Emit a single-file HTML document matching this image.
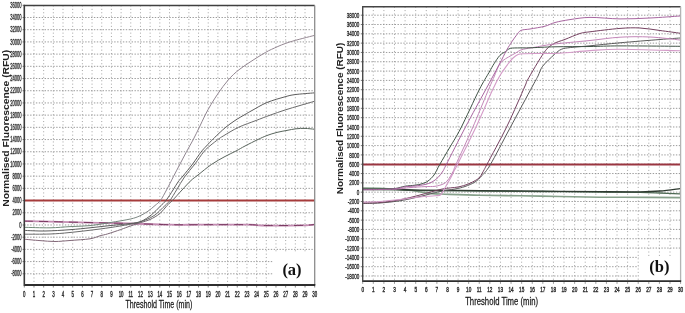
<!DOCTYPE html>
<html><head><meta charset="utf-8"><style>
html,body{margin:0;padding:0;background:#fff;}
body{width:685px;height:313px;overflow:hidden;font-family:"Liberation Sans", sans-serif;}
svg{display:block;will-change:transform;filter:blur(0.4px);}
</style></head><body>
<svg width="685" height="313" viewBox="0 0 685 313">
<rect width="685" height="313" fill="#fff"/>
<g stroke="#8a8a8a" stroke-width="1" stroke-dasharray="1.4 1.5" fill="none" opacity="0.85"><line x1="24.3" y1="17.5" x2="314.7" y2="17.5"/><line x1="24.3" y1="29.7" x2="314.7" y2="29.7"/><line x1="24.3" y1="41.91" x2="314.7" y2="41.91"/><line x1="24.3" y1="54.11" x2="314.7" y2="54.11"/><line x1="24.3" y1="66.32" x2="314.7" y2="66.32"/><line x1="24.3" y1="78.52" x2="314.7" y2="78.52"/><line x1="24.3" y1="90.73" x2="314.7" y2="90.73"/><line x1="24.3" y1="102.93" x2="314.7" y2="102.93"/><line x1="24.3" y1="115.14" x2="314.7" y2="115.14"/><line x1="24.3" y1="127.34" x2="314.7" y2="127.34"/><line x1="24.3" y1="139.55" x2="314.7" y2="139.55"/><line x1="24.3" y1="151.75" x2="314.7" y2="151.75"/><line x1="24.3" y1="163.96" x2="314.7" y2="163.96"/><line x1="24.3" y1="176.16" x2="314.7" y2="176.16"/><line x1="24.3" y1="188.37" x2="314.7" y2="188.37"/><line x1="24.3" y1="200.57" x2="314.7" y2="200.57"/><line x1="24.3" y1="212.78" x2="314.7" y2="212.78"/><line x1="24.3" y1="224.98" x2="314.7" y2="224.98"/><line x1="24.3" y1="237.19" x2="314.7" y2="237.19"/><line x1="24.3" y1="249.39" x2="314.7" y2="249.39"/><line x1="24.3" y1="261.6" x2="272.5" y2="261.6"/><line x1="24.3" y1="273.8" x2="272.5" y2="273.8"/></g><g stroke="#8a8a8a" stroke-width="1" stroke-dasharray="1 2.4" fill="none" opacity="0.78"><line x1="33.98" y1="5.45" x2="33.98" y2="285"/><line x1="43.66" y1="5.45" x2="43.66" y2="285"/><line x1="53.34" y1="5.45" x2="53.34" y2="285"/><line x1="63.02" y1="5.45" x2="63.02" y2="285"/><line x1="72.7" y1="5.45" x2="72.7" y2="285"/><line x1="82.38" y1="5.45" x2="82.38" y2="285"/><line x1="92.06" y1="5.45" x2="92.06" y2="285"/><line x1="101.74" y1="5.45" x2="101.74" y2="285"/><line x1="111.42" y1="5.45" x2="111.42" y2="285"/><line x1="121.1" y1="5.45" x2="121.1" y2="285"/><line x1="130.78" y1="5.45" x2="130.78" y2="285"/><line x1="140.46" y1="5.45" x2="140.46" y2="285"/><line x1="150.14" y1="5.45" x2="150.14" y2="285"/><line x1="159.82" y1="5.45" x2="159.82" y2="285"/><line x1="169.5" y1="5.45" x2="169.5" y2="285"/><line x1="179.18" y1="5.45" x2="179.18" y2="285"/><line x1="188.86" y1="5.45" x2="188.86" y2="285"/><line x1="198.54" y1="5.45" x2="198.54" y2="285"/><line x1="208.22" y1="5.45" x2="208.22" y2="285"/><line x1="217.9" y1="5.45" x2="217.9" y2="285"/><line x1="227.58" y1="5.45" x2="227.58" y2="285"/><line x1="237.26" y1="5.45" x2="237.26" y2="285"/><line x1="246.94" y1="5.45" x2="246.94" y2="285"/><line x1="256.62" y1="5.45" x2="256.62" y2="285"/><line x1="266.3" y1="5.45" x2="266.3" y2="285"/><line x1="275.98" y1="5.45" x2="275.98" y2="252.5"/><line x1="285.66" y1="5.45" x2="285.66" y2="252.5"/><line x1="295.34" y1="5.45" x2="295.34" y2="252.5"/><line x1="305.02" y1="5.45" x2="305.02" y2="252.5"/></g>
<text transform="translate(21.6 7.9) scale(0.5 1)" font-size="8.2" text-anchor="end" font-weight="normal" font-family='"Liberation Sans", sans-serif' fill="#222" stroke="#333" stroke-width="0.35">36000</text>
<line x1="22.6" y1="5.3" x2="24" y2="5.3" stroke="#555" stroke-width="0.8"/>
<text transform="translate(21.6 20.1) scale(0.5 1)" font-size="8.2" text-anchor="end" font-weight="normal" font-family='"Liberation Sans", sans-serif' fill="#222" stroke="#333" stroke-width="0.35">34000</text>
<line x1="22.6" y1="17.5" x2="24" y2="17.5" stroke="#555" stroke-width="0.8"/>
<text transform="translate(21.6 32.3) scale(0.5 1)" font-size="8.2" text-anchor="end" font-weight="normal" font-family='"Liberation Sans", sans-serif' fill="#222" stroke="#333" stroke-width="0.35">32000</text>
<line x1="22.6" y1="29.7" x2="24" y2="29.7" stroke="#555" stroke-width="0.8"/>
<text transform="translate(21.6 44.51) scale(0.5 1)" font-size="8.2" text-anchor="end" font-weight="normal" font-family='"Liberation Sans", sans-serif' fill="#222" stroke="#333" stroke-width="0.35">30000</text>
<line x1="22.6" y1="41.91" x2="24" y2="41.91" stroke="#555" stroke-width="0.8"/>
<text transform="translate(21.6 56.71) scale(0.5 1)" font-size="8.2" text-anchor="end" font-weight="normal" font-family='"Liberation Sans", sans-serif' fill="#222" stroke="#333" stroke-width="0.35">28000</text>
<line x1="22.6" y1="54.11" x2="24" y2="54.11" stroke="#555" stroke-width="0.8"/>
<text transform="translate(21.6 68.92) scale(0.5 1)" font-size="8.2" text-anchor="end" font-weight="normal" font-family='"Liberation Sans", sans-serif' fill="#222" stroke="#333" stroke-width="0.35">26000</text>
<line x1="22.6" y1="66.32" x2="24" y2="66.32" stroke="#555" stroke-width="0.8"/>
<text transform="translate(21.6 81.12) scale(0.5 1)" font-size="8.2" text-anchor="end" font-weight="normal" font-family='"Liberation Sans", sans-serif' fill="#222" stroke="#333" stroke-width="0.35">24000</text>
<line x1="22.6" y1="78.52" x2="24" y2="78.52" stroke="#555" stroke-width="0.8"/>
<text transform="translate(21.6 93.33) scale(0.5 1)" font-size="8.2" text-anchor="end" font-weight="normal" font-family='"Liberation Sans", sans-serif' fill="#222" stroke="#333" stroke-width="0.35">22000</text>
<line x1="22.6" y1="90.73" x2="24" y2="90.73" stroke="#555" stroke-width="0.8"/>
<text transform="translate(21.6 105.53) scale(0.5 1)" font-size="8.2" text-anchor="end" font-weight="normal" font-family='"Liberation Sans", sans-serif' fill="#222" stroke="#333" stroke-width="0.35">20000</text>
<line x1="22.6" y1="102.93" x2="24" y2="102.93" stroke="#555" stroke-width="0.8"/>
<text transform="translate(21.6 117.74) scale(0.5 1)" font-size="8.2" text-anchor="end" font-weight="normal" font-family='"Liberation Sans", sans-serif' fill="#222" stroke="#333" stroke-width="0.35">18000</text>
<line x1="22.6" y1="115.14" x2="24" y2="115.14" stroke="#555" stroke-width="0.8"/>
<text transform="translate(21.6 129.94) scale(0.5 1)" font-size="8.2" text-anchor="end" font-weight="normal" font-family='"Liberation Sans", sans-serif' fill="#222" stroke="#333" stroke-width="0.35">16000</text>
<line x1="22.6" y1="127.34" x2="24" y2="127.34" stroke="#555" stroke-width="0.8"/>
<text transform="translate(21.6 142.15) scale(0.5 1)" font-size="8.2" text-anchor="end" font-weight="normal" font-family='"Liberation Sans", sans-serif' fill="#222" stroke="#333" stroke-width="0.35">14000</text>
<line x1="22.6" y1="139.55" x2="24" y2="139.55" stroke="#555" stroke-width="0.8"/>
<text transform="translate(21.6 154.35) scale(0.5 1)" font-size="8.2" text-anchor="end" font-weight="normal" font-family='"Liberation Sans", sans-serif' fill="#222" stroke="#333" stroke-width="0.35">12000</text>
<line x1="22.6" y1="151.75" x2="24" y2="151.75" stroke="#555" stroke-width="0.8"/>
<text transform="translate(21.6 166.56) scale(0.5 1)" font-size="8.2" text-anchor="end" font-weight="normal" font-family='"Liberation Sans", sans-serif' fill="#222" stroke="#333" stroke-width="0.35">10000</text>
<line x1="22.6" y1="163.96" x2="24" y2="163.96" stroke="#555" stroke-width="0.8"/>
<text transform="translate(21.6 178.76) scale(0.5 1)" font-size="8.2" text-anchor="end" font-weight="normal" font-family='"Liberation Sans", sans-serif' fill="#222" stroke="#333" stroke-width="0.35">8000</text>
<line x1="22.6" y1="176.16" x2="24" y2="176.16" stroke="#555" stroke-width="0.8"/>
<text transform="translate(21.6 190.97) scale(0.5 1)" font-size="8.2" text-anchor="end" font-weight="normal" font-family='"Liberation Sans", sans-serif' fill="#222" stroke="#333" stroke-width="0.35">6000</text>
<line x1="22.6" y1="188.37" x2="24" y2="188.37" stroke="#555" stroke-width="0.8"/>
<text transform="translate(21.6 203.17) scale(0.5 1)" font-size="8.2" text-anchor="end" font-weight="normal" font-family='"Liberation Sans", sans-serif' fill="#222" stroke="#333" stroke-width="0.35">4000</text>
<line x1="22.6" y1="200.57" x2="24" y2="200.57" stroke="#555" stroke-width="0.8"/>
<text transform="translate(21.6 215.38) scale(0.5 1)" font-size="8.2" text-anchor="end" font-weight="normal" font-family='"Liberation Sans", sans-serif' fill="#222" stroke="#333" stroke-width="0.35">2000</text>
<line x1="22.6" y1="212.78" x2="24" y2="212.78" stroke="#555" stroke-width="0.8"/>
<text transform="translate(21.6 227.58) scale(0.5 1)" font-size="8.2" text-anchor="end" font-weight="normal" font-family='"Liberation Sans", sans-serif' fill="#222" stroke="#333" stroke-width="0.35">0</text>
<line x1="22.6" y1="224.98" x2="24" y2="224.98" stroke="#555" stroke-width="0.8"/>
<text transform="translate(21.6 239.79) scale(0.5 1)" font-size="8.2" text-anchor="end" font-weight="normal" font-family='"Liberation Sans", sans-serif' fill="#222" stroke="#333" stroke-width="0.35">-2000</text>
<line x1="22.6" y1="237.19" x2="24" y2="237.19" stroke="#555" stroke-width="0.8"/>
<text transform="translate(21.6 251.99) scale(0.5 1)" font-size="8.2" text-anchor="end" font-weight="normal" font-family='"Liberation Sans", sans-serif' fill="#222" stroke="#333" stroke-width="0.35">-4000</text>
<line x1="22.6" y1="249.39" x2="24" y2="249.39" stroke="#555" stroke-width="0.8"/>
<text transform="translate(21.6 264.2) scale(0.5 1)" font-size="8.2" text-anchor="end" font-weight="normal" font-family='"Liberation Sans", sans-serif' fill="#222" stroke="#333" stroke-width="0.35">-6000</text>
<line x1="22.6" y1="261.6" x2="24" y2="261.6" stroke="#555" stroke-width="0.8"/>
<text transform="translate(21.6 276.4) scale(0.5 1)" font-size="8.2" text-anchor="end" font-weight="normal" font-family='"Liberation Sans", sans-serif' fill="#222" stroke="#333" stroke-width="0.35">-8000</text>
<line x1="22.6" y1="273.8" x2="24" y2="273.8" stroke="#555" stroke-width="0.8"/>
<text transform="translate(24.3 297.1) scale(0.52 1)" font-size="8.4" text-anchor="middle" font-weight="normal" font-family='"Liberation Sans", sans-serif' fill="#222" stroke="#333" stroke-width="0.45">0</text>
<line x1="24.3" y1="286" x2="24.3" y2="287.5" stroke="#666" stroke-width="0.8"/>
<text transform="translate(33.98 297.1) scale(0.52 1)" font-size="8.4" text-anchor="middle" font-weight="normal" font-family='"Liberation Sans", sans-serif' fill="#222" stroke="#333" stroke-width="0.45">1</text>
<line x1="33.98" y1="286" x2="33.98" y2="287.5" stroke="#666" stroke-width="0.8"/>
<text transform="translate(43.66 297.1) scale(0.52 1)" font-size="8.4" text-anchor="middle" font-weight="normal" font-family='"Liberation Sans", sans-serif' fill="#222" stroke="#333" stroke-width="0.45">2</text>
<line x1="43.66" y1="286" x2="43.66" y2="287.5" stroke="#666" stroke-width="0.8"/>
<text transform="translate(53.34 297.1) scale(0.52 1)" font-size="8.4" text-anchor="middle" font-weight="normal" font-family='"Liberation Sans", sans-serif' fill="#222" stroke="#333" stroke-width="0.45">3</text>
<line x1="53.34" y1="286" x2="53.34" y2="287.5" stroke="#666" stroke-width="0.8"/>
<text transform="translate(63.02 297.1) scale(0.52 1)" font-size="8.4" text-anchor="middle" font-weight="normal" font-family='"Liberation Sans", sans-serif' fill="#222" stroke="#333" stroke-width="0.45">4</text>
<line x1="63.02" y1="286" x2="63.02" y2="287.5" stroke="#666" stroke-width="0.8"/>
<text transform="translate(72.7 297.1) scale(0.52 1)" font-size="8.4" text-anchor="middle" font-weight="normal" font-family='"Liberation Sans", sans-serif' fill="#222" stroke="#333" stroke-width="0.45">5</text>
<line x1="72.7" y1="286" x2="72.7" y2="287.5" stroke="#666" stroke-width="0.8"/>
<text transform="translate(82.38 297.1) scale(0.52 1)" font-size="8.4" text-anchor="middle" font-weight="normal" font-family='"Liberation Sans", sans-serif' fill="#222" stroke="#333" stroke-width="0.45">6</text>
<line x1="82.38" y1="286" x2="82.38" y2="287.5" stroke="#666" stroke-width="0.8"/>
<text transform="translate(92.06 297.1) scale(0.52 1)" font-size="8.4" text-anchor="middle" font-weight="normal" font-family='"Liberation Sans", sans-serif' fill="#222" stroke="#333" stroke-width="0.45">7</text>
<line x1="92.06" y1="286" x2="92.06" y2="287.5" stroke="#666" stroke-width="0.8"/>
<text transform="translate(101.74 297.1) scale(0.52 1)" font-size="8.4" text-anchor="middle" font-weight="normal" font-family='"Liberation Sans", sans-serif' fill="#222" stroke="#333" stroke-width="0.45">8</text>
<line x1="101.74" y1="286" x2="101.74" y2="287.5" stroke="#666" stroke-width="0.8"/>
<text transform="translate(111.42 297.1) scale(0.52 1)" font-size="8.4" text-anchor="middle" font-weight="normal" font-family='"Liberation Sans", sans-serif' fill="#222" stroke="#333" stroke-width="0.45">9</text>
<line x1="111.42" y1="286" x2="111.42" y2="287.5" stroke="#666" stroke-width="0.8"/>
<text transform="translate(121.1 297.1) scale(0.52 1)" font-size="8.4" text-anchor="middle" font-weight="normal" font-family='"Liberation Sans", sans-serif' fill="#222" stroke="#333" stroke-width="0.45">10</text>
<line x1="121.1" y1="286" x2="121.1" y2="287.5" stroke="#666" stroke-width="0.8"/>
<text transform="translate(130.78 297.1) scale(0.52 1)" font-size="8.4" text-anchor="middle" font-weight="normal" font-family='"Liberation Sans", sans-serif' fill="#222" stroke="#333" stroke-width="0.45">11</text>
<line x1="130.78" y1="286" x2="130.78" y2="287.5" stroke="#666" stroke-width="0.8"/>
<text transform="translate(140.46 297.1) scale(0.52 1)" font-size="8.4" text-anchor="middle" font-weight="normal" font-family='"Liberation Sans", sans-serif' fill="#222" stroke="#333" stroke-width="0.45">12</text>
<line x1="140.46" y1="286" x2="140.46" y2="287.5" stroke="#666" stroke-width="0.8"/>
<text transform="translate(150.14 297.1) scale(0.52 1)" font-size="8.4" text-anchor="middle" font-weight="normal" font-family='"Liberation Sans", sans-serif' fill="#222" stroke="#333" stroke-width="0.45">13</text>
<line x1="150.14" y1="286" x2="150.14" y2="287.5" stroke="#666" stroke-width="0.8"/>
<text transform="translate(159.82 297.1) scale(0.52 1)" font-size="8.4" text-anchor="middle" font-weight="normal" font-family='"Liberation Sans", sans-serif' fill="#222" stroke="#333" stroke-width="0.45">14</text>
<line x1="159.82" y1="286" x2="159.82" y2="287.5" stroke="#666" stroke-width="0.8"/>
<text transform="translate(169.5 297.1) scale(0.52 1)" font-size="8.4" text-anchor="middle" font-weight="normal" font-family='"Liberation Sans", sans-serif' fill="#222" stroke="#333" stroke-width="0.45">15</text>
<line x1="169.5" y1="286" x2="169.5" y2="287.5" stroke="#666" stroke-width="0.8"/>
<text transform="translate(179.18 297.1) scale(0.52 1)" font-size="8.4" text-anchor="middle" font-weight="normal" font-family='"Liberation Sans", sans-serif' fill="#222" stroke="#333" stroke-width="0.45">16</text>
<line x1="179.18" y1="286" x2="179.18" y2="287.5" stroke="#666" stroke-width="0.8"/>
<text transform="translate(188.86 297.1) scale(0.52 1)" font-size="8.4" text-anchor="middle" font-weight="normal" font-family='"Liberation Sans", sans-serif' fill="#222" stroke="#333" stroke-width="0.45">17</text>
<line x1="188.86" y1="286" x2="188.86" y2="287.5" stroke="#666" stroke-width="0.8"/>
<text transform="translate(198.54 297.1) scale(0.52 1)" font-size="8.4" text-anchor="middle" font-weight="normal" font-family='"Liberation Sans", sans-serif' fill="#222" stroke="#333" stroke-width="0.45">18</text>
<line x1="198.54" y1="286" x2="198.54" y2="287.5" stroke="#666" stroke-width="0.8"/>
<text transform="translate(208.22 297.1) scale(0.52 1)" font-size="8.4" text-anchor="middle" font-weight="normal" font-family='"Liberation Sans", sans-serif' fill="#222" stroke="#333" stroke-width="0.45">19</text>
<line x1="208.22" y1="286" x2="208.22" y2="287.5" stroke="#666" stroke-width="0.8"/>
<text transform="translate(217.9 297.1) scale(0.52 1)" font-size="8.4" text-anchor="middle" font-weight="normal" font-family='"Liberation Sans", sans-serif' fill="#222" stroke="#333" stroke-width="0.45">20</text>
<line x1="217.9" y1="286" x2="217.9" y2="287.5" stroke="#666" stroke-width="0.8"/>
<text transform="translate(227.58 297.1) scale(0.52 1)" font-size="8.4" text-anchor="middle" font-weight="normal" font-family='"Liberation Sans", sans-serif' fill="#222" stroke="#333" stroke-width="0.45">21</text>
<line x1="227.58" y1="286" x2="227.58" y2="287.5" stroke="#666" stroke-width="0.8"/>
<text transform="translate(237.26 297.1) scale(0.52 1)" font-size="8.4" text-anchor="middle" font-weight="normal" font-family='"Liberation Sans", sans-serif' fill="#222" stroke="#333" stroke-width="0.45">22</text>
<line x1="237.26" y1="286" x2="237.26" y2="287.5" stroke="#666" stroke-width="0.8"/>
<text transform="translate(246.94 297.1) scale(0.52 1)" font-size="8.4" text-anchor="middle" font-weight="normal" font-family='"Liberation Sans", sans-serif' fill="#222" stroke="#333" stroke-width="0.45">23</text>
<line x1="246.94" y1="286" x2="246.94" y2="287.5" stroke="#666" stroke-width="0.8"/>
<text transform="translate(256.62 297.1) scale(0.52 1)" font-size="8.4" text-anchor="middle" font-weight="normal" font-family='"Liberation Sans", sans-serif' fill="#222" stroke="#333" stroke-width="0.45">24</text>
<line x1="256.62" y1="286" x2="256.62" y2="287.5" stroke="#666" stroke-width="0.8"/>
<text transform="translate(266.3 297.1) scale(0.52 1)" font-size="8.4" text-anchor="middle" font-weight="normal" font-family='"Liberation Sans", sans-serif' fill="#222" stroke="#333" stroke-width="0.45">25</text>
<line x1="266.3" y1="286" x2="266.3" y2="287.5" stroke="#666" stroke-width="0.8"/>
<text transform="translate(275.98 297.1) scale(0.52 1)" font-size="8.4" text-anchor="middle" font-weight="normal" font-family='"Liberation Sans", sans-serif' fill="#222" stroke="#333" stroke-width="0.45">26</text>
<line x1="275.98" y1="286" x2="275.98" y2="287.5" stroke="#666" stroke-width="0.8"/>
<text transform="translate(285.66 297.1) scale(0.52 1)" font-size="8.4" text-anchor="middle" font-weight="normal" font-family='"Liberation Sans", sans-serif' fill="#222" stroke="#333" stroke-width="0.45">27</text>
<line x1="285.66" y1="286" x2="285.66" y2="287.5" stroke="#666" stroke-width="0.8"/>
<text transform="translate(295.34 297.1) scale(0.52 1)" font-size="8.4" text-anchor="middle" font-weight="normal" font-family='"Liberation Sans", sans-serif' fill="#222" stroke="#333" stroke-width="0.45">28</text>
<line x1="295.34" y1="286" x2="295.34" y2="287.5" stroke="#666" stroke-width="0.8"/>
<text transform="translate(305.02 297.1) scale(0.52 1)" font-size="8.4" text-anchor="middle" font-weight="normal" font-family='"Liberation Sans", sans-serif' fill="#222" stroke="#333" stroke-width="0.45">29</text>
<line x1="305.02" y1="286" x2="305.02" y2="287.5" stroke="#666" stroke-width="0.8"/>
<text transform="translate(314.7 297.1) scale(0.52 1)" font-size="8.4" text-anchor="middle" font-weight="normal" font-family='"Liberation Sans", sans-serif' fill="#222" stroke="#333" stroke-width="0.45">30</text>
<line x1="314.7" y1="286" x2="314.7" y2="287.5" stroke="#666" stroke-width="0.8"/>
<text transform="translate(158.9 308) scale(0.645 1)" font-size="11" text-anchor="middle" font-weight="normal" font-family='"Liberation Sans", sans-serif' fill="#111" stroke="#222" stroke-width="0.25">Threshold Time (min)</text>
<text transform="translate(9.2 128.2) rotate(-90)" font-size="9.6" text-anchor="middle" font-weight="bold" font-family='"Liberation Sans", sans-serif' fill="#222" textLength="157" lengthAdjust="spacingAndGlyphs">Normalised Fluorescence (RFU)</text>
<line x1="24.3" y1="200.5" x2="314.7" y2="200.5" stroke="#a63c3c" stroke-width="2"/>
<defs><linearGradient id="gC1" gradientUnits="userSpaceOnUse" x1="24" y1="0" x2="314" y2="0"><stop offset="0" stop-color="#6f8a76"/><stop offset="0.33" stop-color="#72857a"/><stop offset="0.5" stop-color="#8f8590"/><stop offset="1" stop-color="#958792"/></linearGradient><linearGradient id="gC4" gradientUnits="userSpaceOnUse" x1="24" y1="0" x2="314" y2="0"><stop offset="0" stop-color="#86687a"/><stop offset="0.38" stop-color="#7a6874"/><stop offset="0.55" stop-color="#5c645e"/><stop offset="1" stop-color="#56645a"/></linearGradient></defs>
<path d="M24 221.1C28.33 221.18 42.33 221.43 50 221.6C57.67 221.77 61.67 221.9 70 222.1C78.33 222.3 90 222.57 100 222.8C110 223.03 118.33 223.18 130 223.5C141.67 223.82 158.33 224.5 170 224.7C181.67 224.9 186.67 224.7 200 224.7C213.33 224.7 239.67 224.57 250 224.7C260.33 224.83 253.67 225.38 262 225.5C270.33 225.62 291.33 225.55 300 225.4C308.67 225.25 311.67 224.73 314 224.6" stroke="#c48cb2" stroke-width="1.8" fill="none" stroke-linejoin="round" />
<path d="M24 221.1C28.33 221.18 42.33 221.43 50 221.6C57.67 221.77 61.67 221.9 70 222.1C78.33 222.3 90 222.57 100 222.8C110 223.03 118.33 223.18 130 223.5C141.67 223.82 158.33 224.5 170 224.7C181.67 224.9 186.67 224.7 200 224.7C213.33 224.7 239.67 224.57 250 224.7C260.33 224.83 253.67 225.38 262 225.5C270.33 225.62 291.33 225.55 300 225.4C308.67 225.25 311.67 224.73 314 224.6" stroke="#7a3a62" stroke-width="1.0" fill="none" stroke-linejoin="round" stroke-dasharray="9 6"/>
<path d="M24 239.2C26.67 239.43 34.83 240.22 40 240.6C45.17 240.98 50 241.52 55 241.5C60 241.48 64.17 240.95 70 240.5C75.83 240.05 85 239.58 90 238.8C95 238.02 97.07 236.62 100 235.8C102.93 234.98 104.13 234.95 107.6 233.9C111.07 232.85 117 230.82 120.8 229.5C124.6 228.18 127.03 227.17 130.4 226C133.77 224.83 137.73 223.58 141 222.5C144.27 221.42 146.83 221 150 219.5C153.17 218 157.17 215.83 160 213.5C162.83 211.17 164.92 207.68 167 205.5C169.08 203.32 170 202.98 172.5 200.4C175 197.82 178.92 193.32 182 190C185.08 186.68 188.33 183 191 180.5C193.67 178 194.6 177.67 198 175C201.4 172.33 206.9 167.58 211.4 164.5C215.9 161.42 220.9 158.75 225 156.5C229.1 154.25 232.67 152.75 236 151C239.33 149.25 241.33 147.92 245 146C248.67 144.08 254.33 141.25 258 139.5C261.67 137.75 263.83 136.68 267 135.5C270.17 134.32 273.67 133.25 277 132.4C280.33 131.55 283.83 131 287 130.4C290.17 129.8 293 129.13 296 128.8C299 128.47 302 128.33 305 128.4C308 128.47 312.5 129.07 314 129.2" stroke="url(#gC4)" stroke-width="1.0" fill="none" stroke-linejoin="round" />
<path d="M24 234.2C28.33 234.17 42.33 234.28 50 234C57.67 233.72 61.67 233.33 70 232.5C78.33 231.67 91.67 230.08 100 229C108.33 227.92 114.17 226.97 120 226C125.83 225.03 130.83 224.17 135 223.2C139.17 222.23 141.67 221.57 145 220.2C148.33 218.83 152 217.12 155 215C158 212.88 160.5 209.93 163 207.5C165.5 205.07 167.75 203.32 170 200.4C172.25 197.48 174.08 193.9 176.5 190C178.92 186.1 181.42 181.35 184.5 177C187.58 172.65 191.78 168.12 195 163.9C198.22 159.68 201.3 154.72 203.8 151.7C206.3 148.68 207.52 147.92 210 145.8C212.48 143.68 216.5 140.63 218.7 139C220.9 137.37 219.9 137.95 223.2 136C226.5 134.05 233.03 129.88 238.5 127.3C243.97 124.72 250.75 122.52 256 120.5C261.25 118.48 265.17 116.95 270 115.2C274.83 113.45 280 111.62 285 110C290 108.38 295.17 106.93 300 105.5C304.83 104.07 311.67 102.08 314 101.4" stroke="#6a6a6a" stroke-width="1.0" fill="none" stroke-linejoin="round" />
<path d="M24 230.4C27.5 230.5 37.33 231.12 45 231C52.67 230.88 62.5 230.23 70 229.7C77.5 229.17 83.33 228.48 90 227.8C96.67 227.12 103.33 226.32 110 225.6C116.67 224.88 124.83 224.2 130 223.5C135.17 222.8 137.42 222.85 141 221.4C144.58 219.95 148.33 217.28 151.5 214.8C154.67 212.32 157.58 208.9 160 206.5C162.42 204.1 163.83 203.15 166 200.4C168.17 197.65 171 193.07 173 190C175 186.93 176.33 184.33 178 182C179.67 179.67 180.55 179.02 183 176C185.45 172.98 189.72 167.87 192.7 163.9C195.68 159.93 198.62 155.18 200.9 152.2C203.18 149.22 204.4 148.17 206.4 146C208.4 143.83 211.27 140.87 212.9 139.2C214.53 137.53 214.17 137.9 216.2 136C218.23 134.1 221.97 130.38 225.1 127.8C228.23 125.22 231.68 122.72 235 120.5C238.32 118.28 242.17 116.17 245 114.5C247.83 112.83 248.33 112.5 252 110.5C255.67 108.5 261.5 104.78 267 102.5C272.5 100.22 280.33 98.12 285 96.8C289.67 95.48 290.17 95.25 295 94.6C299.83 93.95 310.83 93.18 314 92.9" stroke="#5c5c5c" stroke-width="1.0" fill="none" stroke-linejoin="round" />
<path d="M24 227.3C28.33 227.38 42.33 227.92 50 227.8C57.67 227.68 63.33 226.97 70 226.6C76.67 226.23 83.33 226.27 90 225.6C96.67 224.93 103.27 223.7 110 222.6C116.73 221.5 125.4 220.13 130.4 219C135.4 217.87 137.07 217.1 140 215.8C142.93 214.5 145.5 212.92 148 211.2C150.5 209.48 152.92 207.3 155 205.5C157.08 203.7 158.58 202.98 160.5 200.4C162.42 197.82 164.33 193.98 166.5 190C168.67 186.02 171.25 180.83 173.5 176.5C175.75 172.17 177.83 168.13 180 164C182.17 159.87 184.33 155.7 186.5 151.7C188.67 147.7 190.87 144.05 193 140C195.13 135.95 197.28 131.53 199.3 127.4C201.32 123.27 203.15 119.02 205.1 115.2C207.05 111.38 208.78 108.2 211 104.5C213.22 100.8 215.53 97.08 218.4 93C221.27 88.92 224.6 84 228.2 80C231.8 76 234.37 73.25 240 69C245.63 64.75 256.25 58 262 54.5C267.75 51 269.88 50.08 274.5 48C279.12 45.92 283.12 44.08 289.7 42C296.28 39.92 309.95 36.58 314 35.5" stroke="url(#gC1)" stroke-width="1.0" fill="none" stroke-linejoin="round" />
<rect x="273" y="253" width="40.7" height="31" fill="#fff"/>
<text x="292" y="275.2" font-size="16.5" text-anchor="middle" font-weight="bold" font-family='"Liberation Serif", serif' fill="#111" >(a)</text>
<line x1="24.3" y1="5.45" x2="314.7" y2="5.45" stroke="#404040" stroke-width="1.4"/><line x1="314.7" y1="5.45" x2="314.7" y2="285" stroke="#8c8c8c" stroke-width="1.3"/><line x1="24.3" y1="285" x2="315.3" y2="285" stroke="#2e2e2e" stroke-width="1.8"/><line x1="24.3" y1="4.75" x2="24.3" y2="285.9" stroke="#3a3a3a" stroke-width="1.6"/>
<g stroke="#8a8a8a" stroke-width="1" stroke-dasharray="1.4 1.5" fill="none" opacity="0.85"><line x1="362.7" y1="15.2" x2="680.6" y2="15.2"/><line x1="362.7" y1="24.51" x2="680.6" y2="24.51"/><line x1="362.7" y1="33.83" x2="680.6" y2="33.83"/><line x1="362.7" y1="43.14" x2="680.6" y2="43.14"/><line x1="362.7" y1="52.46" x2="680.6" y2="52.46"/><line x1="362.7" y1="61.77" x2="680.6" y2="61.77"/><line x1="362.7" y1="71.09" x2="680.6" y2="71.09"/><line x1="362.7" y1="80.4" x2="680.6" y2="80.4"/><line x1="362.7" y1="89.71" x2="680.6" y2="89.71"/><line x1="362.7" y1="99.03" x2="680.6" y2="99.03"/><line x1="362.7" y1="108.34" x2="680.6" y2="108.34"/><line x1="362.7" y1="117.66" x2="680.6" y2="117.66"/><line x1="362.7" y1="126.97" x2="680.6" y2="126.97"/><line x1="362.7" y1="136.29" x2="680.6" y2="136.29"/><line x1="362.7" y1="145.6" x2="680.6" y2="145.6"/><line x1="362.7" y1="154.91" x2="680.6" y2="154.91"/><line x1="362.7" y1="164.23" x2="680.6" y2="164.23"/><line x1="362.7" y1="173.54" x2="680.6" y2="173.54"/><line x1="362.7" y1="182.86" x2="680.6" y2="182.86"/><line x1="362.7" y1="192.17" x2="680.6" y2="192.17"/><line x1="362.7" y1="201.49" x2="680.6" y2="201.49"/><line x1="362.7" y1="210.8" x2="680.6" y2="210.8"/><line x1="362.7" y1="220.11" x2="680.6" y2="220.11"/><line x1="362.7" y1="229.43" x2="680.6" y2="229.43"/><line x1="362.7" y1="238.74" x2="680.6" y2="238.74"/><line x1="362.7" y1="248.06" x2="680.6" y2="248.06"/><line x1="362.7" y1="257.37" x2="638.5" y2="257.37"/><line x1="362.7" y1="266.69" x2="638.5" y2="266.69"/><line x1="362.7" y1="276" x2="638.5" y2="276"/></g><g stroke="#8a8a8a" stroke-width="1" stroke-dasharray="1 2.4" fill="none" opacity="0.78"><line x1="373.3" y1="6.7" x2="373.3" y2="281.2"/><line x1="383.89" y1="6.7" x2="383.89" y2="281.2"/><line x1="394.49" y1="6.7" x2="394.49" y2="281.2"/><line x1="405.09" y1="6.7" x2="405.09" y2="281.2"/><line x1="415.68" y1="6.7" x2="415.68" y2="281.2"/><line x1="426.28" y1="6.7" x2="426.28" y2="281.2"/><line x1="436.88" y1="6.7" x2="436.88" y2="281.2"/><line x1="447.47" y1="6.7" x2="447.47" y2="281.2"/><line x1="458.07" y1="6.7" x2="458.07" y2="281.2"/><line x1="468.67" y1="6.7" x2="468.67" y2="281.2"/><line x1="479.26" y1="6.7" x2="479.26" y2="281.2"/><line x1="489.86" y1="6.7" x2="489.86" y2="281.2"/><line x1="500.46" y1="6.7" x2="500.46" y2="281.2"/><line x1="511.05" y1="6.7" x2="511.05" y2="281.2"/><line x1="521.65" y1="6.7" x2="521.65" y2="281.2"/><line x1="532.25" y1="6.7" x2="532.25" y2="281.2"/><line x1="542.84" y1="6.7" x2="542.84" y2="281.2"/><line x1="553.44" y1="6.7" x2="553.44" y2="281.2"/><line x1="564.04" y1="6.7" x2="564.04" y2="281.2"/><line x1="574.63" y1="6.7" x2="574.63" y2="281.2"/><line x1="585.23" y1="6.7" x2="585.23" y2="281.2"/><line x1="595.83" y1="6.7" x2="595.83" y2="281.2"/><line x1="606.42" y1="6.7" x2="606.42" y2="281.2"/><line x1="617.02" y1="6.7" x2="617.02" y2="281.2"/><line x1="627.62" y1="6.7" x2="627.62" y2="281.2"/><line x1="638.21" y1="6.7" x2="638.21" y2="281.2"/><line x1="648.81" y1="6.7" x2="648.81" y2="256"/><line x1="659.41" y1="6.7" x2="659.41" y2="256"/><line x1="670" y1="6.7" x2="670" y2="256"/></g>
<text transform="translate(359.4 17.8) scale(0.6 1)" font-size="7.6" text-anchor="end" font-weight="normal" font-family='"Liberation Sans", sans-serif' fill="#222" stroke="#333" stroke-width="0.35">38000</text>
<line x1="360.8" y1="15.2" x2="362" y2="15.2" stroke="#555" stroke-width="0.8"/>
<text transform="translate(359.4 27.11) scale(0.6 1)" font-size="7.6" text-anchor="end" font-weight="normal" font-family='"Liberation Sans", sans-serif' fill="#222" stroke="#333" stroke-width="0.35">36000</text>
<line x1="360.8" y1="24.51" x2="362" y2="24.51" stroke="#555" stroke-width="0.8"/>
<text transform="translate(359.4 36.43) scale(0.6 1)" font-size="7.6" text-anchor="end" font-weight="normal" font-family='"Liberation Sans", sans-serif' fill="#222" stroke="#333" stroke-width="0.35">34000</text>
<line x1="360.8" y1="33.83" x2="362" y2="33.83" stroke="#555" stroke-width="0.8"/>
<text transform="translate(359.4 45.74) scale(0.6 1)" font-size="7.6" text-anchor="end" font-weight="normal" font-family='"Liberation Sans", sans-serif' fill="#222" stroke="#333" stroke-width="0.35">32000</text>
<line x1="360.8" y1="43.14" x2="362" y2="43.14" stroke="#555" stroke-width="0.8"/>
<text transform="translate(359.4 55.06) scale(0.6 1)" font-size="7.6" text-anchor="end" font-weight="normal" font-family='"Liberation Sans", sans-serif' fill="#222" stroke="#333" stroke-width="0.35">30000</text>
<line x1="360.8" y1="52.46" x2="362" y2="52.46" stroke="#555" stroke-width="0.8"/>
<text transform="translate(359.4 64.37) scale(0.6 1)" font-size="7.6" text-anchor="end" font-weight="normal" font-family='"Liberation Sans", sans-serif' fill="#222" stroke="#333" stroke-width="0.35">28000</text>
<line x1="360.8" y1="61.77" x2="362" y2="61.77" stroke="#555" stroke-width="0.8"/>
<text transform="translate(359.4 73.69) scale(0.6 1)" font-size="7.6" text-anchor="end" font-weight="normal" font-family='"Liberation Sans", sans-serif' fill="#222" stroke="#333" stroke-width="0.35">26000</text>
<line x1="360.8" y1="71.09" x2="362" y2="71.09" stroke="#555" stroke-width="0.8"/>
<text transform="translate(359.4 83) scale(0.6 1)" font-size="7.6" text-anchor="end" font-weight="normal" font-family='"Liberation Sans", sans-serif' fill="#222" stroke="#333" stroke-width="0.35">24000</text>
<line x1="360.8" y1="80.4" x2="362" y2="80.4" stroke="#555" stroke-width="0.8"/>
<text transform="translate(359.4 92.31) scale(0.6 1)" font-size="7.6" text-anchor="end" font-weight="normal" font-family='"Liberation Sans", sans-serif' fill="#222" stroke="#333" stroke-width="0.35">22000</text>
<line x1="360.8" y1="89.71" x2="362" y2="89.71" stroke="#555" stroke-width="0.8"/>
<text transform="translate(359.4 101.63) scale(0.6 1)" font-size="7.6" text-anchor="end" font-weight="normal" font-family='"Liberation Sans", sans-serif' fill="#222" stroke="#333" stroke-width="0.35">20000</text>
<line x1="360.8" y1="99.03" x2="362" y2="99.03" stroke="#555" stroke-width="0.8"/>
<text transform="translate(359.4 110.94) scale(0.6 1)" font-size="7.6" text-anchor="end" font-weight="normal" font-family='"Liberation Sans", sans-serif' fill="#222" stroke="#333" stroke-width="0.35">18000</text>
<line x1="360.8" y1="108.34" x2="362" y2="108.34" stroke="#555" stroke-width="0.8"/>
<text transform="translate(359.4 120.26) scale(0.6 1)" font-size="7.6" text-anchor="end" font-weight="normal" font-family='"Liberation Sans", sans-serif' fill="#222" stroke="#333" stroke-width="0.35">16000</text>
<line x1="360.8" y1="117.66" x2="362" y2="117.66" stroke="#555" stroke-width="0.8"/>
<text transform="translate(359.4 129.57) scale(0.6 1)" font-size="7.6" text-anchor="end" font-weight="normal" font-family='"Liberation Sans", sans-serif' fill="#222" stroke="#333" stroke-width="0.35">14000</text>
<line x1="360.8" y1="126.97" x2="362" y2="126.97" stroke="#555" stroke-width="0.8"/>
<text transform="translate(359.4 138.89) scale(0.6 1)" font-size="7.6" text-anchor="end" font-weight="normal" font-family='"Liberation Sans", sans-serif' fill="#222" stroke="#333" stroke-width="0.35">12000</text>
<line x1="360.8" y1="136.29" x2="362" y2="136.29" stroke="#555" stroke-width="0.8"/>
<text transform="translate(359.4 148.2) scale(0.6 1)" font-size="7.6" text-anchor="end" font-weight="normal" font-family='"Liberation Sans", sans-serif' fill="#222" stroke="#333" stroke-width="0.35">10000</text>
<line x1="360.8" y1="145.6" x2="362" y2="145.6" stroke="#555" stroke-width="0.8"/>
<text transform="translate(359.4 157.51) scale(0.6 1)" font-size="7.6" text-anchor="end" font-weight="normal" font-family='"Liberation Sans", sans-serif' fill="#222" stroke="#333" stroke-width="0.35">8000</text>
<line x1="360.8" y1="154.91" x2="362" y2="154.91" stroke="#555" stroke-width="0.8"/>
<text transform="translate(359.4 166.83) scale(0.6 1)" font-size="7.6" text-anchor="end" font-weight="normal" font-family='"Liberation Sans", sans-serif' fill="#222" stroke="#333" stroke-width="0.35">6000</text>
<line x1="360.8" y1="164.23" x2="362" y2="164.23" stroke="#555" stroke-width="0.8"/>
<text transform="translate(359.4 176.14) scale(0.6 1)" font-size="7.6" text-anchor="end" font-weight="normal" font-family='"Liberation Sans", sans-serif' fill="#222" stroke="#333" stroke-width="0.35">4000</text>
<line x1="360.8" y1="173.54" x2="362" y2="173.54" stroke="#555" stroke-width="0.8"/>
<text transform="translate(359.4 185.46) scale(0.6 1)" font-size="7.6" text-anchor="end" font-weight="normal" font-family='"Liberation Sans", sans-serif' fill="#222" stroke="#333" stroke-width="0.35">2000</text>
<line x1="360.8" y1="182.86" x2="362" y2="182.86" stroke="#555" stroke-width="0.8"/>
<text transform="translate(359.4 194.77) scale(0.6 1)" font-size="7.6" text-anchor="end" font-weight="normal" font-family='"Liberation Sans", sans-serif' fill="#222" stroke="#333" stroke-width="0.35">0</text>
<line x1="360.8" y1="192.17" x2="362" y2="192.17" stroke="#555" stroke-width="0.8"/>
<text transform="translate(359.4 204.09) scale(0.6 1)" font-size="7.6" text-anchor="end" font-weight="normal" font-family='"Liberation Sans", sans-serif' fill="#222" stroke="#333" stroke-width="0.35">-2000</text>
<line x1="360.8" y1="201.49" x2="362" y2="201.49" stroke="#555" stroke-width="0.8"/>
<text transform="translate(359.4 213.4) scale(0.6 1)" font-size="7.6" text-anchor="end" font-weight="normal" font-family='"Liberation Sans", sans-serif' fill="#222" stroke="#333" stroke-width="0.35">-4000</text>
<line x1="360.8" y1="210.8" x2="362" y2="210.8" stroke="#555" stroke-width="0.8"/>
<text transform="translate(359.4 222.71) scale(0.6 1)" font-size="7.6" text-anchor="end" font-weight="normal" font-family='"Liberation Sans", sans-serif' fill="#222" stroke="#333" stroke-width="0.35">-6000</text>
<line x1="360.8" y1="220.11" x2="362" y2="220.11" stroke="#555" stroke-width="0.8"/>
<text transform="translate(359.4 232.03) scale(0.6 1)" font-size="7.6" text-anchor="end" font-weight="normal" font-family='"Liberation Sans", sans-serif' fill="#222" stroke="#333" stroke-width="0.35">-8000</text>
<line x1="360.8" y1="229.43" x2="362" y2="229.43" stroke="#555" stroke-width="0.8"/>
<text transform="translate(359.4 241.34) scale(0.6 1)" font-size="7.6" text-anchor="end" font-weight="normal" font-family='"Liberation Sans", sans-serif' fill="#222" stroke="#333" stroke-width="0.35">-10000</text>
<line x1="360.8" y1="238.74" x2="362" y2="238.74" stroke="#555" stroke-width="0.8"/>
<text transform="translate(359.4 250.66) scale(0.6 1)" font-size="7.6" text-anchor="end" font-weight="normal" font-family='"Liberation Sans", sans-serif' fill="#222" stroke="#333" stroke-width="0.35">-12000</text>
<line x1="360.8" y1="248.06" x2="362" y2="248.06" stroke="#555" stroke-width="0.8"/>
<text transform="translate(359.4 259.97) scale(0.6 1)" font-size="7.6" text-anchor="end" font-weight="normal" font-family='"Liberation Sans", sans-serif' fill="#222" stroke="#333" stroke-width="0.35">-14000</text>
<line x1="360.8" y1="257.37" x2="362" y2="257.37" stroke="#555" stroke-width="0.8"/>
<text transform="translate(359.4 269.29) scale(0.6 1)" font-size="7.6" text-anchor="end" font-weight="normal" font-family='"Liberation Sans", sans-serif' fill="#222" stroke="#333" stroke-width="0.35">-16000</text>
<line x1="360.8" y1="266.69" x2="362" y2="266.69" stroke="#555" stroke-width="0.8"/>
<text transform="translate(359.4 278.6) scale(0.6 1)" font-size="7.6" text-anchor="end" font-weight="normal" font-family='"Liberation Sans", sans-serif' fill="#222" stroke="#333" stroke-width="0.35">-18000</text>
<line x1="360.8" y1="276" x2="362" y2="276" stroke="#555" stroke-width="0.8"/>
<text transform="translate(362.7 292.3) scale(0.6 1)" font-size="7.8" text-anchor="middle" font-weight="normal" font-family='"Liberation Sans", sans-serif' fill="#222" stroke="#333" stroke-width="0.45">0</text>
<line x1="362.7" y1="282.2" x2="362.7" y2="283.7" stroke="#666" stroke-width="0.8"/>
<text transform="translate(373.3 292.3) scale(0.6 1)" font-size="7.8" text-anchor="middle" font-weight="normal" font-family='"Liberation Sans", sans-serif' fill="#222" stroke="#333" stroke-width="0.45">1</text>
<line x1="373.3" y1="282.2" x2="373.3" y2="283.7" stroke="#666" stroke-width="0.8"/>
<text transform="translate(383.89 292.3) scale(0.6 1)" font-size="7.8" text-anchor="middle" font-weight="normal" font-family='"Liberation Sans", sans-serif' fill="#222" stroke="#333" stroke-width="0.45">2</text>
<line x1="383.89" y1="282.2" x2="383.89" y2="283.7" stroke="#666" stroke-width="0.8"/>
<text transform="translate(394.49 292.3) scale(0.6 1)" font-size="7.8" text-anchor="middle" font-weight="normal" font-family='"Liberation Sans", sans-serif' fill="#222" stroke="#333" stroke-width="0.45">3</text>
<line x1="394.49" y1="282.2" x2="394.49" y2="283.7" stroke="#666" stroke-width="0.8"/>
<text transform="translate(405.09 292.3) scale(0.6 1)" font-size="7.8" text-anchor="middle" font-weight="normal" font-family='"Liberation Sans", sans-serif' fill="#222" stroke="#333" stroke-width="0.45">4</text>
<line x1="405.09" y1="282.2" x2="405.09" y2="283.7" stroke="#666" stroke-width="0.8"/>
<text transform="translate(415.68 292.3) scale(0.6 1)" font-size="7.8" text-anchor="middle" font-weight="normal" font-family='"Liberation Sans", sans-serif' fill="#222" stroke="#333" stroke-width="0.45">5</text>
<line x1="415.68" y1="282.2" x2="415.68" y2="283.7" stroke="#666" stroke-width="0.8"/>
<text transform="translate(426.28 292.3) scale(0.6 1)" font-size="7.8" text-anchor="middle" font-weight="normal" font-family='"Liberation Sans", sans-serif' fill="#222" stroke="#333" stroke-width="0.45">6</text>
<line x1="426.28" y1="282.2" x2="426.28" y2="283.7" stroke="#666" stroke-width="0.8"/>
<text transform="translate(436.88 292.3) scale(0.6 1)" font-size="7.8" text-anchor="middle" font-weight="normal" font-family='"Liberation Sans", sans-serif' fill="#222" stroke="#333" stroke-width="0.45">7</text>
<line x1="436.88" y1="282.2" x2="436.88" y2="283.7" stroke="#666" stroke-width="0.8"/>
<text transform="translate(447.47 292.3) scale(0.6 1)" font-size="7.8" text-anchor="middle" font-weight="normal" font-family='"Liberation Sans", sans-serif' fill="#222" stroke="#333" stroke-width="0.45">8</text>
<line x1="447.47" y1="282.2" x2="447.47" y2="283.7" stroke="#666" stroke-width="0.8"/>
<text transform="translate(458.07 292.3) scale(0.6 1)" font-size="7.8" text-anchor="middle" font-weight="normal" font-family='"Liberation Sans", sans-serif' fill="#222" stroke="#333" stroke-width="0.45">9</text>
<line x1="458.07" y1="282.2" x2="458.07" y2="283.7" stroke="#666" stroke-width="0.8"/>
<text transform="translate(468.67 292.3) scale(0.6 1)" font-size="7.8" text-anchor="middle" font-weight="normal" font-family='"Liberation Sans", sans-serif' fill="#222" stroke="#333" stroke-width="0.45">10</text>
<line x1="468.67" y1="282.2" x2="468.67" y2="283.7" stroke="#666" stroke-width="0.8"/>
<text transform="translate(479.26 292.3) scale(0.6 1)" font-size="7.8" text-anchor="middle" font-weight="normal" font-family='"Liberation Sans", sans-serif' fill="#222" stroke="#333" stroke-width="0.45">11</text>
<line x1="479.26" y1="282.2" x2="479.26" y2="283.7" stroke="#666" stroke-width="0.8"/>
<text transform="translate(489.86 292.3) scale(0.6 1)" font-size="7.8" text-anchor="middle" font-weight="normal" font-family='"Liberation Sans", sans-serif' fill="#222" stroke="#333" stroke-width="0.45">12</text>
<line x1="489.86" y1="282.2" x2="489.86" y2="283.7" stroke="#666" stroke-width="0.8"/>
<text transform="translate(500.46 292.3) scale(0.6 1)" font-size="7.8" text-anchor="middle" font-weight="normal" font-family='"Liberation Sans", sans-serif' fill="#222" stroke="#333" stroke-width="0.45">13</text>
<line x1="500.46" y1="282.2" x2="500.46" y2="283.7" stroke="#666" stroke-width="0.8"/>
<text transform="translate(511.05 292.3) scale(0.6 1)" font-size="7.8" text-anchor="middle" font-weight="normal" font-family='"Liberation Sans", sans-serif' fill="#222" stroke="#333" stroke-width="0.45">14</text>
<line x1="511.05" y1="282.2" x2="511.05" y2="283.7" stroke="#666" stroke-width="0.8"/>
<text transform="translate(521.65 292.3) scale(0.6 1)" font-size="7.8" text-anchor="middle" font-weight="normal" font-family='"Liberation Sans", sans-serif' fill="#222" stroke="#333" stroke-width="0.45">15</text>
<line x1="521.65" y1="282.2" x2="521.65" y2="283.7" stroke="#666" stroke-width="0.8"/>
<text transform="translate(532.25 292.3) scale(0.6 1)" font-size="7.8" text-anchor="middle" font-weight="normal" font-family='"Liberation Sans", sans-serif' fill="#222" stroke="#333" stroke-width="0.45">16</text>
<line x1="532.25" y1="282.2" x2="532.25" y2="283.7" stroke="#666" stroke-width="0.8"/>
<text transform="translate(542.84 292.3) scale(0.6 1)" font-size="7.8" text-anchor="middle" font-weight="normal" font-family='"Liberation Sans", sans-serif' fill="#222" stroke="#333" stroke-width="0.45">17</text>
<line x1="542.84" y1="282.2" x2="542.84" y2="283.7" stroke="#666" stroke-width="0.8"/>
<text transform="translate(553.44 292.3) scale(0.6 1)" font-size="7.8" text-anchor="middle" font-weight="normal" font-family='"Liberation Sans", sans-serif' fill="#222" stroke="#333" stroke-width="0.45">18</text>
<line x1="553.44" y1="282.2" x2="553.44" y2="283.7" stroke="#666" stroke-width="0.8"/>
<text transform="translate(564.04 292.3) scale(0.6 1)" font-size="7.8" text-anchor="middle" font-weight="normal" font-family='"Liberation Sans", sans-serif' fill="#222" stroke="#333" stroke-width="0.45">19</text>
<line x1="564.04" y1="282.2" x2="564.04" y2="283.7" stroke="#666" stroke-width="0.8"/>
<text transform="translate(574.63 292.3) scale(0.6 1)" font-size="7.8" text-anchor="middle" font-weight="normal" font-family='"Liberation Sans", sans-serif' fill="#222" stroke="#333" stroke-width="0.45">20</text>
<line x1="574.63" y1="282.2" x2="574.63" y2="283.7" stroke="#666" stroke-width="0.8"/>
<text transform="translate(585.23 292.3) scale(0.6 1)" font-size="7.8" text-anchor="middle" font-weight="normal" font-family='"Liberation Sans", sans-serif' fill="#222" stroke="#333" stroke-width="0.45">21</text>
<line x1="585.23" y1="282.2" x2="585.23" y2="283.7" stroke="#666" stroke-width="0.8"/>
<text transform="translate(595.83 292.3) scale(0.6 1)" font-size="7.8" text-anchor="middle" font-weight="normal" font-family='"Liberation Sans", sans-serif' fill="#222" stroke="#333" stroke-width="0.45">22</text>
<line x1="595.83" y1="282.2" x2="595.83" y2="283.7" stroke="#666" stroke-width="0.8"/>
<text transform="translate(606.42 292.3) scale(0.6 1)" font-size="7.8" text-anchor="middle" font-weight="normal" font-family='"Liberation Sans", sans-serif' fill="#222" stroke="#333" stroke-width="0.45">23</text>
<line x1="606.42" y1="282.2" x2="606.42" y2="283.7" stroke="#666" stroke-width="0.8"/>
<text transform="translate(617.02 292.3) scale(0.6 1)" font-size="7.8" text-anchor="middle" font-weight="normal" font-family='"Liberation Sans", sans-serif' fill="#222" stroke="#333" stroke-width="0.45">24</text>
<line x1="617.02" y1="282.2" x2="617.02" y2="283.7" stroke="#666" stroke-width="0.8"/>
<text transform="translate(627.62 292.3) scale(0.6 1)" font-size="7.8" text-anchor="middle" font-weight="normal" font-family='"Liberation Sans", sans-serif' fill="#222" stroke="#333" stroke-width="0.45">25</text>
<line x1="627.62" y1="282.2" x2="627.62" y2="283.7" stroke="#666" stroke-width="0.8"/>
<text transform="translate(638.21 292.3) scale(0.6 1)" font-size="7.8" text-anchor="middle" font-weight="normal" font-family='"Liberation Sans", sans-serif' fill="#222" stroke="#333" stroke-width="0.45">26</text>
<line x1="638.21" y1="282.2" x2="638.21" y2="283.7" stroke="#666" stroke-width="0.8"/>
<text transform="translate(648.81 292.3) scale(0.6 1)" font-size="7.8" text-anchor="middle" font-weight="normal" font-family='"Liberation Sans", sans-serif' fill="#222" stroke="#333" stroke-width="0.45">27</text>
<line x1="648.81" y1="282.2" x2="648.81" y2="283.7" stroke="#666" stroke-width="0.8"/>
<text transform="translate(659.41 292.3) scale(0.6 1)" font-size="7.8" text-anchor="middle" font-weight="normal" font-family='"Liberation Sans", sans-serif' fill="#222" stroke="#333" stroke-width="0.45">28</text>
<line x1="659.41" y1="282.2" x2="659.41" y2="283.7" stroke="#666" stroke-width="0.8"/>
<text transform="translate(670 292.3) scale(0.6 1)" font-size="7.8" text-anchor="middle" font-weight="normal" font-family='"Liberation Sans", sans-serif' fill="#222" stroke="#333" stroke-width="0.45">29</text>
<line x1="670" y1="282.2" x2="670" y2="283.7" stroke="#666" stroke-width="0.8"/>
<text transform="translate(680.6 292.3) scale(0.6 1)" font-size="7.8" text-anchor="middle" font-weight="normal" font-family='"Liberation Sans", sans-serif' fill="#222" stroke="#333" stroke-width="0.45">30</text>
<line x1="680.6" y1="282.2" x2="680.6" y2="283.7" stroke="#666" stroke-width="0.8"/>
<text transform="translate(501.6 305) scale(0.69 1)" font-size="11.2" text-anchor="middle" font-weight="normal" font-family='"Liberation Sans", sans-serif' fill="#111" stroke="#222" stroke-width="0.25">Threshold Time (min)</text>
<text transform="translate(342.7 118.4) rotate(-90)" font-size="8.8" text-anchor="middle" font-weight="bold" font-family='"Liberation Sans", sans-serif' fill="#222" textLength="151.6" lengthAdjust="spacingAndGlyphs">Normalised Fluorescence (RFU)</text>
<line x1="362.7" y1="164.5" x2="680.6" y2="164.5" stroke="#9a3540" stroke-width="2"/>
<path d="M362 188C365 188.03 373.67 187.97 380 188.2C386.33 188.43 394.67 189.02 400 189.4C405.33 189.78 408.33 190.03 412 190.5C415.67 190.97 418.67 191.68 422 192.2C425.33 192.72 428.17 193.27 432 193.6C435.83 193.93 437 193.92 445 194.2C453 194.48 467.5 195.03 480 195.3C492.5 195.57 506.67 195.6 520 195.8C533.33 196 546.67 196.27 560 196.5C573.33 196.73 585 197.05 600 197.2C615 197.35 636.67 197.33 650 197.4C663.33 197.47 675 197.57 680 197.6" stroke="#86a08a" stroke-width="1.6" fill="none" stroke-linejoin="round" />
<path d="M362 189.6C367.5 189.63 385.33 189.63 395 189.8C404.67 189.97 405.83 190.4 420 190.6C434.17 190.8 460 190.85 480 191C500 191.15 520 191.33 540 191.5C560 191.67 583.33 191.87 600 192C616.67 192.13 630 192.13 640 192.3C650 192.47 653.33 192.73 660 193C666.67 193.27 676.67 193.75 680 193.9" stroke="#4e6a54" stroke-width="1.3" fill="none" stroke-linejoin="round" />
<path d="M362 189.2C367.5 189.23 385.33 189.23 395 189.4C404.67 189.57 405.83 190 420 190.2C434.17 190.4 460 190.43 480 190.6C500 190.77 520 191.02 540 191.2C560 191.38 583.33 191.6 600 191.7C616.67 191.8 630 191.92 640 191.8C650 191.68 653.33 191.53 660 191C666.67 190.47 676.67 189 680 188.6" stroke="#2e3a30" stroke-width="1.3" fill="none" stroke-linejoin="round" />
<path d="M362 203.5C365 203.42 373.67 203.45 380 203C386.33 202.55 393.33 201.88 400 200.8C406.67 199.72 413.33 198.05 420 196.5C426.67 194.95 434.17 192.75 440 191.5C445.83 190.25 450.83 189.83 455 189C459.17 188.17 461.67 187.67 465 186.5C468.33 185.33 472.17 183.83 475 182C477.83 180.17 479.43 178.42 482 175.5C484.57 172.58 485.73 172.42 490.4 164.5C495.07 156.58 502.97 141.08 510 128C517.03 114.92 527.93 94.67 532.6 86C537.27 77.33 536.32 79.3 538 76C539.68 72.7 539.97 69.78 542.7 66.2C545.43 62.62 551.28 57.32 554.4 54.5C557.52 51.68 558.68 50.47 561.4 49.3C564.12 48.13 565.93 48.08 570.7 47.5C575.47 46.92 581.78 46.58 590 45.8C598.22 45.02 608.33 43.85 620 42.8C631.67 41.75 650 40.3 660 39.5C670 38.7 676.67 38.25 680 38" stroke="#5a5a5a" stroke-width="1.0" fill="none" stroke-linejoin="round" />
<path d="M362 203C365 202.92 373.67 203.03 380 202.5C386.33 201.97 393.33 201.05 400 199.8C406.67 198.55 413.02 196.78 420 195C426.98 193.22 435.57 190.43 441.9 189.1C448.23 187.77 453.62 187.85 458 187C462.38 186.15 465.28 185.1 468.2 184C471.12 182.9 473.55 181.57 475.5 180.4C477.45 179.23 478.48 178.73 479.9 177C481.32 175.27 482.83 172.08 484 170C485.17 167.92 483.05 171.83 486.9 164.5C490.75 157.17 500.75 139.08 507.1 126C513.45 112.92 521.6 93.67 525 86C528.4 78.33 524.35 85.53 527.5 80C530.65 74.47 539.62 58.8 543.9 52.8C548.18 46.8 549.68 46.23 553.2 44C556.72 41.77 560.53 41.15 565 39.4C569.47 37.65 575.83 34.77 580 33.5C584.17 32.23 583.33 32.65 590 31.8C596.67 30.95 611.67 29.03 620 28.4C628.33 27.77 633.33 27.65 640 28C646.67 28.35 653.33 29.63 660 30.5C666.67 31.37 676.67 32.75 680 33.2" stroke="#74405f" stroke-width="1.0" fill="none" stroke-linejoin="round" />
<path d="M362 202C365 201.92 373.67 201.92 380 201.5C386.33 201.08 393.33 200.25 400 199.5C406.67 198.75 414.17 197.62 420 197C425.83 196.38 431.5 196.22 435 195.8C438.5 195.38 439.17 196.13 441 194.5C442.83 192.87 444.33 188.87 446 186C447.67 183.13 449.58 179.95 451 177.3C452.42 174.65 453.42 172.25 454.5 170.1C455.58 167.95 454 171.42 457.5 164.4C461 157.38 469.67 140.4 475.5 128C481.33 115.6 488.42 98.75 492.5 90C496.58 81.25 497.52 79.7 500 75.5C502.48 71.3 505.32 67.63 507.4 64.8C509.48 61.97 510.73 60.22 512.5 58.5C514.27 56.78 515.92 55.3 518 54.5C520.08 53.7 521.33 53.87 525 53.7C528.67 53.53 534.17 53.58 540 53.5C545.83 53.42 551.67 53.68 560 53.2C568.33 52.72 580 51.27 590 50.6C600 49.93 605 49.17 620 49.2C635 49.23 670 50.53 680 50.8" stroke="#d49bc8" stroke-width="1.1" fill="none" stroke-linejoin="round" />
<path d="M362 189.8C367.5 189.7 387 189.57 395 189.2C403 188.83 405 188.03 410 187.6C415 187.17 420.83 186.82 425 186.6C429.17 186.38 431.83 186.8 435 186.3C438.17 185.8 441.67 184.9 444 183.6C446.33 182.3 447.5 180.52 449 178.5C450.5 176.48 451.83 173.85 453 171.5C454.17 169.15 452.75 171.65 456 164.4C459.25 157.15 467.25 140.07 472.5 128C477.75 115.93 483.92 100.5 487.5 92C491.08 83.5 492.12 81.42 494 77C495.88 72.58 497.3 68.25 498.8 65.5C500.3 62.75 501.4 61.9 503 60.5C504.6 59.1 506.23 58.38 508.4 57.1C510.57 55.82 513.93 53.98 516 52.8C518.07 51.62 518.97 50.72 520.8 50C522.63 49.28 524.8 48.93 527 48.5C529.2 48.07 529.67 48.12 534 47.4C538.33 46.68 543.67 45.35 553 44.2C562.33 43.05 578.83 41.67 590 40.5C601.17 39.33 610 37.78 620 37.2C630 36.62 640 36.53 650 37C660 37.47 675 39.5 680 40" stroke="#c386b8" stroke-width="1.0" fill="none" stroke-linejoin="round" />
<path d="M362 189.3C365 189.28 374.5 189.33 380 189.2C385.5 189.07 390.83 189 395 188.5C399.17 188 401.67 186.75 405 186.2C408.33 185.65 412.17 185.6 415 185.2C417.83 184.8 419.83 184.5 422 183.8C424.17 183.1 426 182.47 428 181C430 179.53 432.03 177.77 434 175C435.97 172.23 437.13 169.07 439.8 164.4C442.47 159.73 446.48 153.07 450 147C453.52 140.93 456.05 137.5 460.9 128C465.75 118.5 474.42 99.25 479.1 90C483.78 80.75 486.52 76.87 489 72.5C491.48 68.13 492.2 66.63 494 63.8C495.8 60.97 497.88 57.53 499.8 55.5C501.72 53.47 503.75 52.78 505.5 51.6C507.25 50.42 507.88 49.02 510.3 48.4C512.72 47.78 516.72 48 520 47.9C523.28 47.8 524.17 47.98 530 47.8C535.83 47.62 545 47.02 555 46.8C565 46.58 579.17 46.65 590 46.5C600.83 46.35 605 45.93 620 45.9C635 45.87 670 46.23 680 46.3" stroke="#3f5245" stroke-width="1.0" fill="none" stroke-linejoin="round" />
<path d="M362 189.6C365 189.58 374.5 189.63 380 189.5C385.5 189.37 390.83 189.25 395 188.8C399.17 188.35 401.67 187.27 405 186.8C408.33 186.33 411.67 186.38 415 186C418.33 185.62 422.17 185.17 425 184.5C427.83 183.83 429.83 183.17 432 182C434.17 180.83 436.17 179.33 438 177.5C439.83 175.67 441.62 173.17 443 171C444.38 168.83 442.55 171.83 446.3 164.5C450.05 157.17 458.97 139.42 465.5 127C472.03 114.58 479.92 100.33 485.5 90C491.08 79.67 495.5 71.6 499 65C502.5 58.4 504.33 54.32 506.5 50.4C508.67 46.48 510.33 44.03 512 41.5C513.67 38.97 515 37.05 516.5 35.2C518 33.35 518.75 31.43 521 30.4C523.25 29.37 526 29.7 530 29C534 28.3 540.83 27.28 545 26.2C549.17 25.12 550.83 23.6 555 22.5C559.17 21.4 564.17 20.45 570 19.6C575.83 18.75 581.67 17.52 590 17.4C598.33 17.28 610 18.8 620 18.9C630 19 640 18.48 650 18C660 17.52 675 16.33 680 16" stroke="#a866a0" stroke-width="1.0" fill="none" stroke-linejoin="round" />
<rect x="639" y="256.5" width="40.6" height="23.7" fill="#fff"/>
<text x="659.4" y="271.5" font-size="16.5" text-anchor="middle" font-weight="bold" font-family='"Liberation Serif", serif' fill="#111" >(b)</text>
<line x1="362.7" y1="6.7" x2="680.6" y2="6.7" stroke="#444444" stroke-width="1.4"/><line x1="680.6" y1="6.7" x2="680.6" y2="281.2" stroke="#b4b4b4" stroke-width="1.3"/><line x1="362.7" y1="281.2" x2="681.2" y2="281.2" stroke="#2e2e2e" stroke-width="1.8"/><line x1="362.7" y1="6" x2="362.7" y2="282.1" stroke="#4a4a4a" stroke-width="1.4"/>
</svg>
</body></html>
